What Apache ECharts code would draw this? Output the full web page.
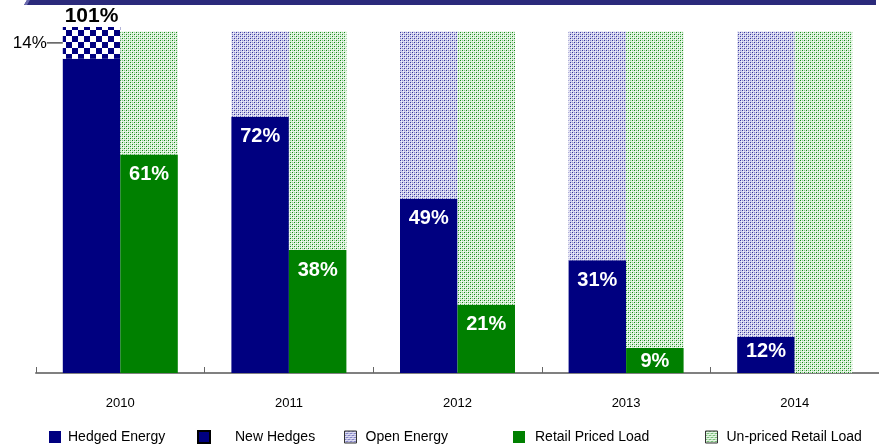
<!DOCTYPE html>
<html><head><meta charset="utf-8">
<script src="https://cdn.jsdelivr.net/npm/echarts@6/dist/echarts.min.js"></script>
<style>html,body{margin:0;padding:0;background:#fff}#c{width:879px;height:447px}</style>
</head><body><div id="c"></div>
<script>
var categories = ['2010','2011','2012','2013','2014'];
var hedgedEnergy = [92, 75, 51, 33, 10.6];
var newHedges = [9.3, 0, 0, 0, 0];
var openEnergy = [0, 25, 49, 67, 89.4];
var retailPriced = [64, 36, 20, 7.3, 0];
var unpricedRetail = [36, 64, 80, 92.7, 100];
var hedgedLabels = ['', '72%', '49%', '31%', '12%'];
var retailLabels = ['61%', '38%', '21%', '9%', ''];
var totalLabel = '101%';
var newHedgeLabel = '14%';

function tile(size, draw){var c=document.createElement('canvas');c.width=size;c.height=size;var g=c.getContext('2d');draw(g);return c;}
var checker = tile(12,function(g){g.fillStyle='#fff';g.fillRect(0,0,12,12);g.fillStyle='#000080';g.fillRect(0,0,6,6);g.fillRect(6,6,6,6);});
var openPat = tile(4,function(g){g.fillStyle='#d4d4ee';g.fillRect(0,0,4,4);g.fillStyle='#9090cc';g.fillRect(0,2,1,1);g.fillRect(2,0,1,1);g.fillStyle='#34349c';g.fillRect(0,0,1,1);g.fillRect(2,2,1,1);g.fillStyle='#f4f4fa';g.fillRect(1,1,1,1);g.fillRect(3,3,1,1);});
var greenPat = tile(4,function(g){g.fillStyle='#dcf0dc';g.fillRect(0,0,4,4);g.fillStyle='#90cc90';g.fillRect(0,2,1,1);g.fillRect(2,0,1,1);g.fillStyle='#148c14';g.fillRect(0,0,1,1);g.fillRect(2,2,1,1);g.fillStyle='#fafffa';g.fillRect(1,1,1,1);g.fillRect(3,3,1,1);});
var NAVY='#000080', GREEN='#008000';
var FONT='"Liberation Sans", Arial, sans-serif';
var BW = 57.5;

function labelled(values, labels, distances){
  return values.map(function(v,i){
    return {value:v, label:{show: !!labels[i], formatter: labels[i], distance: distances ? distances[i] : 10}};
  });
}
var whiteLbl = {position:'insideTop', color:'#fff', fontWeight:'bold', fontSize:20, fontFamily:FONT};
var legText = {fontSize:14, color:'#000', fontFamily:FONT};
function leg(left, item, pad){
  return {left:left, top:425, icon:'rect', itemWidth:12, itemHeight:12,
    textStyle:Object.assign({padding:[0,0,0,pad]}, legText), data:[item]};
}

var chart = echarts.init(document.getElementById('c'));
chart.setOption({
  animation:false,
  grid:{left:36, width:849, top:14.4, bottom:74},
  xAxis:{type:'category', data:categories,
    axisLine:{lineStyle:{color:'#808080', width:2}},
    axisTick:{show:true, inside:true, length:6, interval:0, lineStyle:{color:'#666', width:1}},
    axisLabel:{color:'#000', fontSize:13, fontFamily:FONT, margin:24}},
  yAxis:{type:'value', min:0, max:105, show:false, splitLine:{show:false}},
  legend:[
    leg(44, 'Hedged Energy', 2),
    leg(192, {name:'New Hedges', itemStyle:{color:NAVY, borderColor:'#000', borderWidth:2}}, 20),
    leg(339, {name:'Open Energy', itemStyle:{borderColor:'#333', borderWidth:1}}, 4),
    leg(508, 'Retail Priced Load', 5),
    leg(700, {name:'Un-priced Retail Load', itemStyle:{borderColor:'#333', borderWidth:1}}, 4)
  ],
  graphic:[
    {type:'polygon', shape:{points:[[24,5],[27,0],[876,0],[876,5]]}, style:{fill:'#2b2a7b'}, silent:true},
    {type:'polygon', shape:{points:[[24,5],[27,0],[30,0],[27,5]]}, style:{fill:'#6a6aae'}, silent:true}
  ],
  series:[
    {name:'Hedged Energy', type:'bar', stack:'a', barWidth:BW, barGap:'0%', itemStyle:{color:NAVY},
      label:whiteLbl, data:labelled(hedgedEnergy, hedgedLabels, [10,10,10,10,5])},
    {name:'New Hedges', type:'bar', stack:'a', barWidth:BW, barGap:'0%', itemStyle:{color:{image:checker, repeat:'repeat'}},
      data:newHedges.map(function(v,i){return {value:v, label:{show:i===0, position:'left', distance:0, formatter:'{a|'+newHedgeLabel+'}{l|}',
        rich:{a:{fontSize:17, color:'#000', fontFamily:FONT}, l:{width:16, height:1, backgroundColor:'#000'}}}};})},
    {name:'Open Energy', type:'bar', stack:'a', barWidth:BW, barGap:'0%', itemStyle:{color:{image:openPat, repeat:'repeat'}},
      data:openEnergy.map(function(v,i){return {value:v, label:{show:i===0, position:'top', distance:0, formatter:totalLabel, color:'#000', fontWeight:'bold', fontSize:21, fontFamily:FONT}};})},
    {name:'Retail Priced Load', type:'bar', stack:'b', barWidth:BW, barGap:'0%', itemStyle:{color:GREEN},
      label:whiteLbl, data:labelled(retailPriced, retailLabels, [10,10,10,3,10])},
    {name:'Un-priced Retail Load', type:'bar', stack:'b', barWidth:BW, barGap:'0%', itemStyle:{color:{image:greenPat, repeat:'repeat'}}, data:unpricedRetail}
  ]
});
</script></body></html>
